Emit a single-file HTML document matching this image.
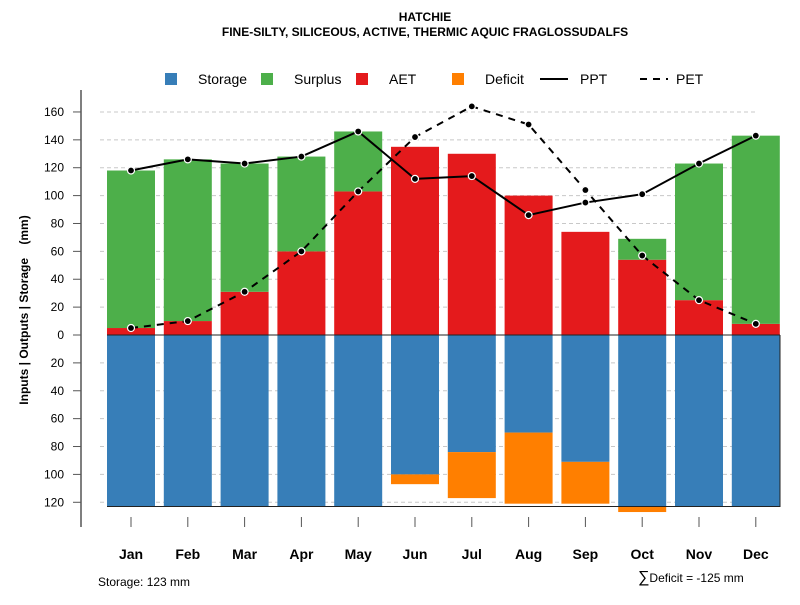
<!DOCTYPE html>
<html><head><meta charset="utf-8"><style>
body{margin:0;background:#fff}
svg{font-family:"Liberation Sans",Arial,sans-serif}
</style></head><body>
<svg id="c" width="800" height="600" xmlns="http://www.w3.org/2000/svg">
<text x="425" y="21" text-anchor="middle" font-size="12" font-weight="bold">HATCHIE</text>
<text x="425" y="36" text-anchor="middle" font-size="12" font-weight="bold">FINE-SILTY, SILICEOUS, ACTIVE, THERMIC AQUIC FRAGLOSSUDALFS</text>
<g id="legend" font-size="14">
<g><rect x="165" y="73" width="12" height="12" fill="#377eb8"/><text x="198" y="84">Storage</text></g>
<g><rect x="261" y="73" width="12" height="12" fill="#4daf4a"/><text x="294" y="84">Surplus</text></g>
<g><rect x="356" y="73" width="12" height="12" fill="#e41a1c"/><text x="389" y="84">AET</text></g>
<g><rect x="452" y="73" width="12" height="12" fill="#ff7f00"/><text x="485" y="84">Deficit</text></g>
<g><line x1="540" y1="79" x2="568" y2="79" stroke="#000" stroke-width="2"/><text x="580" y="84">PPT</text></g>
<g><line x1="640" y1="79" x2="668" y2="79" stroke="#000" stroke-width="2" stroke-dasharray="7,6"/><text x="676" y="84">PET</text></g>
</g>
<text transform="translate(28,310) rotate(-90)" text-anchor="middle" font-size="12" font-weight="bold">Inputs | Outputs | Storage&#160;&#160;&#160;&#160;(mm)</text>
<g id="grid"></g><g id="bars"></g><g id="lines"></g><g id="axes"></g>
<text x="98" y="586" font-size="12">Storage: 123 mm</text>
<text x="638" y="582" font-size="12"><tspan font-size="16">∑</tspan>Deficit = -125 mm</text>
</svg>
<script>
const months=["Jan","Feb","Mar","Apr","May","Jun","Jul","Aug","Sep","Oct","Nov","Dec"];
const storage=[123,123,123,123,123,100,84,70,91,123,123,123];
const deficit=[0,0,0,0,0,7,33,51,30,4,0,0];
const aet=[5,10,31,60,103,135,130,100,74,54,25,8];
const surplus=[113,116,92,68,43,0,0,0,0,15,98,135];
const ppt=[118,126,123,128,146,112,114,86,95,101,123,143];
const pet=[5,10,31,60,103,142,164,151,104,57,25,8];
const posTicks=[0,20,40,60,80,100,120,140,160];
const negTicks=[20,40,60,80,100,120];
const NS="http://www.w3.org/2000/svg";
const y=v=>335-v*1.394;
const x=i=>131+i*56.8;
const bw=48;
function mk(t,a,p){const e=document.createElementNS(NS,t);for(const k in a)e.setAttribute(k,a[k]);document.getElementById(p).appendChild(e);return e;}
posTicks.concat(negTicks.map(v=>-v)).forEach(v=>{
 if(v!==0){const g=mk("line",{x1:100,x2:756,y1:y(v),y2:y(v),stroke:"#c8c8c8","stroke-dasharray":"4,3"},"grid");
 
 }
 const t=mk("line",{x1:73,x2:81,y1:y(v),y2:y(v),stroke:"#555"},"axes");
 
 
 const l=mk("text",{x:64,y:y(v)+4,"text-anchor":"end","font-size":12},"axes");l.textContent=Math.abs(v);
 
 
});
months.forEach((m,i)=>{
 const cx=x(i),l=cx-bw/2;
 const parts=[["storage",335,y(-storage[i]),"#377eb8"],["deficit",y(-storage[i]),y(-storage[i]-deficit[i]),"#ff7f00"],["aet",y(aet[i]),335,"#e41a1c"],["surplus",y(aet[i]+surplus[i]),y(aet[i]),"#4daf4a"]];
 parts.forEach(p=>{const h=Math.abs(p[2]-p[1]);if(h<=0)return;
  const r=mk("rect",{x:l,y:Math.min(p[1],p[2]),width:bw,height:h,fill:p[3]},"bars");
  
  });
 const t=mk("line",{x1:cx,x2:cx,y1:517,y2:527,stroke:"#555"},"axes");
 
 
 const tl=mk("text",{x:cx,y:559,"text-anchor":"middle","font-size":14,"font-weight":"bold"},"axes");tl.textContent=m;
 
 
});
const b1=mk("line",{x1:107,x2:780,y1:335,y2:335,stroke:"#222"},"lines");


const b2=mk("path",{d:"M107,"+y(-123)+"H780V335",fill:"none",stroke:"#222"},"lines");


const ax=mk("line",{x1:81,x2:81,y1:90,y2:527,stroke:"#555","stroke-width":1.5},"axes");


[[ppt,"ppt-line",""],[pet,"pet-line","7,6"]].forEach(s=>{
 const pl=mk("polyline",{points:s[0].map((v,i)=>x(i)+","+y(v)).join(" "),fill:"none",stroke:"#000","stroke-width":2,"stroke-dasharray":s[2]},"lines");
 
 
 s[0].forEach((v,i)=>{const c=mk("circle",{cx:x(i),cy:y(v),r:3.5,fill:"#000",stroke:"#fff","stroke-width":1.2},"lines");
  
  });
});
</script>
</body></html>
